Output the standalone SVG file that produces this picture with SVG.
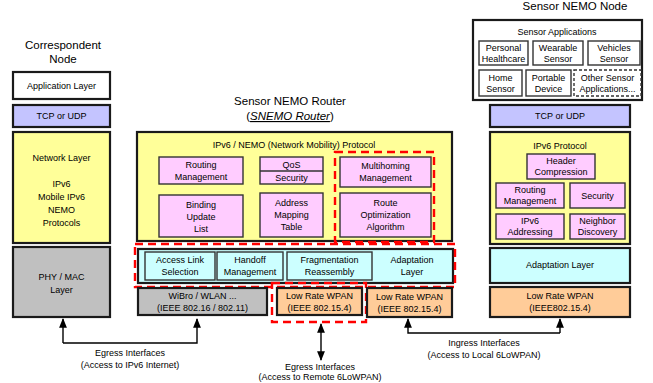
<svg xmlns="http://www.w3.org/2000/svg" width="653" height="383" viewBox="0 0 653 383">
<defs>
  <marker id="ah" viewBox="0 0 10 10" refX="9" refY="5" markerWidth="7" markerHeight="7" orient="auto-start-reverse">
    <path d="M0,1 L10,5 L0,9 z" fill="#000"/>
  </marker>
</defs>
<style>
  text { font-family: "Liberation Sans", Arial, sans-serif; font-size: 9px; fill: #000; text-anchor: middle; }
  .title { font-size: 11.5px; }
  .outer { stroke: #1a1a1a; stroke-width: 2.2; }
  .inner { stroke: #333; stroke-width: 1.4; }
  .white { fill: #ffffff; }
  .tcp { fill: #c4c4ff; }
  .yel { fill: #ffff99; }
  .pink { fill: #ffccff; }
  .cyan { fill: #ccffff; }
  .gray { fill: #c0c0c0; }
  .orng { fill: #ffcc99; }
  .red { fill: none; stroke: #ff0000; stroke-width: 2.4; stroke-dasharray: 8 5; }
  .dash { stroke-dasharray: 3 2; }
  .wire { fill: none; stroke: #000; stroke-width: 1.4; }
</style>
<rect width="653" height="383" fill="#fff"/>

<!-- Correspondent node stack -->
<g id="correspondent">
  <text class="title" x="63" y="49">Correspondent</text>
  <text class="title" x="63" y="63">Node</text>
  <rect class="outer white" x="13" y="72" width="97" height="27"/>
  <text x="61.5" y="89">Application Layer</text>
  <rect class="outer tcp" x="13" y="105" width="97" height="22"/>
  <text x="61.5" y="119">TCP or UDP</text>
  <rect class="outer yel" x="13" y="132" width="97" height="111"/>
  <text x="61.5" y="161">Network Layer</text>
  <text x="61.5" y="187">IPv6</text>
  <text x="61.5" y="200">Mobile IPv6</text>
  <text x="61.5" y="213">NEMO</text>
  <text x="61.5" y="226">Protocols</text>
  <rect class="outer gray" x="13" y="247" width="97" height="70"/>
  <text x="61.5" y="280">PHY / MAC</text>
  <text x="61.5" y="293">Layer</text>
</g>

<!-- Sensor NEMO router -->
<g id="router">
  <text class="title" x="290" y="105">Sensor NEMO Router</text>
  <text class="title" x="290" y="120">(<tspan font-style="italic" text-decoration="underline">SNEMO Router</tspan>)</text>
  <rect class="outer yel" x="137" y="132" width="315" height="109"/>
  <text x="294" y="148">IPv6 / NEMO (Network Mobility) Protocol</text>

  <g id="routing-mgmt">
    <rect class="inner pink" x="159" y="157" width="84" height="27"/>
    <text x="201" y="168">Routing</text>
    <text x="201" y="180">Management</text>
  </g>
  <g id="qos-security">
    <rect class="inner pink" x="260" y="157" width="63" height="27"/>
    <line class="inner" x1="260" y1="171" x2="323" y2="171"/>
    <text x="291.5" y="168">QoS</text>
    <text x="291.5" y="181">Security</text>
  </g>
  <g id="binding-update">
    <rect class="inner pink" x="159" y="195" width="84" height="42"/>
    <text x="201" y="208">Binding</text>
    <text x="201" y="220">Update</text>
    <text x="201" y="232">List</text>
  </g>
  <g id="address-mapping">
    <rect class="inner pink" x="260" y="193" width="63" height="44"/>
    <text x="291.5" y="206">Address</text>
    <text x="291.5" y="218">Mapping</text>
    <text x="291.5" y="230">Table</text>
  </g>
  <g id="multihoming">
    <rect class="inner pink" x="340" y="157" width="91" height="30"/>
    <text x="385.5" y="169">Multihoming</text>
    <text x="385.5" y="181">Management</text>
  </g>
  <g id="route-opt">
    <rect class="inner pink" x="340" y="193" width="91" height="44"/>
    <text x="385.5" y="206">Route</text>
    <text x="385.5" y="218">Optimization</text>
    <text x="385.5" y="230">Algorithm</text>
  </g>
  <rect class="red" x="335" y="152" width="99" height="90"/>

  <g id="mobility-row">
    <rect class="outer cyan" x="138" y="249" width="315" height="34"/>
    <rect class="inner cyan" x="145" y="252" width="70" height="28"/>
    <text x="180" y="263">Access Link</text>
    <text x="180" y="275">Selection</text>
    <rect class="inner cyan" x="217" y="252" width="66" height="28"/>
    <text x="250" y="263">Handoff</text>
    <text x="250" y="275">Management</text>
    <rect class="inner cyan" x="287" y="252" width="85" height="28"/>
    <text x="329.5" y="263">Fragmentation</text>
    <text x="329.5" y="275">Reassembly</text>
    <text x="412" y="263">Adaptation</text>
    <text x="412" y="275">Layer</text>
  </g>
  <rect class="red" x="135" y="244" width="320" height="43"/>

  <g id="wibro">
    <rect class="outer gray" x="138" y="288" width="129" height="27"/>
    <text x="202.5" y="299">WiBro / WLAN ...</text>
    <text x="202.5" y="311">(IEEE 802.16 / 802.11)</text>
  </g>
  <g id="wpan-remote">
    <rect class="outer orng" x="277" y="288" width="85" height="27"/>
    <text x="319.5" y="299">Low Rate WPAN</text>
    <text x="319.5" y="311">(IEEE 802.15.4)</text>
  </g>
  <rect class="red" x="272" y="283" width="94" height="39"/>
  <g id="wpan-local">
    <rect class="outer orng" x="367" y="288" width="85" height="29"/>
    <text x="409.5" y="300">Low Rate WPAN</text>
    <text x="409.5" y="312">(IEEE 802.15.4)</text>
  </g>
</g>

<!-- Sensor NEMO node -->
<g id="sensor-node">
  <text class="title" x="575" y="10">Sensor NEMO Node</text>
  <g id="sensor-apps">
    <rect class="outer white" x="473" y="20" width="169" height="80"/>
    <text x="557" y="35">Sensor Applications</text>
    <rect class="inner white" x="479" y="41" width="49" height="24"/>
    <text x="503.5" y="51">Personal</text>
    <text x="503.5" y="62">Healthcare</text>
    <rect class="inner white" x="533" y="41" width="50" height="24"/>
    <text x="558" y="51">Wearable</text>
    <text x="558" y="62">Sensor</text>
    <rect class="inner white" x="588" y="41" width="52" height="24"/>
    <text x="614" y="51">Vehicles</text>
    <text x="614" y="62">Sensor</text>
    <rect class="inner white" x="479" y="70" width="43" height="26"/>
    <text x="500.5" y="81">Home</text>
    <text x="500.5" y="92">Sensor</text>
    <rect class="inner white" x="526" y="70" width="45" height="26"/>
    <text x="548.5" y="81">Portable</text>
    <text x="548.5" y="92">Device</text>
    <rect class="inner white dash" x="574" y="70" width="67" height="26"/>
    <text x="607.5" y="81">Other Sensor</text>
    <text x="607.5" y="92">Applications...</text>
  </g>
  <rect class="outer tcp" x="490" y="105" width="140" height="22"/>
  <text x="560" y="119">TCP or UDP</text>
  <g id="ipv6-protocol">
    <rect class="outer yel" x="490" y="132" width="140" height="112"/>
    <text x="560" y="149">IPv6  Protocol</text>
    <rect class="inner pink" x="527" y="154" width="68" height="25"/>
    <text x="561" y="164">Header</text>
    <text x="561" y="175">Compression</text>
    <rect class="inner pink" x="496" y="183" width="68" height="25"/>
    <text x="530" y="193">Routing</text>
    <text x="530" y="204">Management</text>
    <rect class="inner pink" x="570" y="183" width="55" height="25"/>
    <text x="597.5" y="199">Security</text>
    <rect class="inner pink" x="496" y="214" width="68" height="25"/>
    <text x="530" y="224">IPv6</text>
    <text x="530" y="235">Addressing</text>
    <rect class="inner pink" x="570" y="214" width="55" height="25"/>
    <text x="597.5" y="224">Neighbor</text>
    <text x="597.5" y="235">Discovery</text>
  </g>
  <rect class="outer cyan" x="490" y="248" width="140" height="35"/>
  <text x="560" y="268">Adaptation Layer</text>
  <rect class="outer orng" x="490" y="287" width="140" height="30"/>
  <text x="560" y="299">Low Rate WPAN</text>
  <text x="560" y="311">(IEEE802.15.4)</text>
</g>

<!-- interface connectors -->
<g id="connectors">
  <path class="wire" d="M63,343 V319" marker-end="url(#ah)"/>
  <path class="wire" d="M63,343 H197 V319" marker-end="url(#ah)"/>
  <path class="wire" d="M321,324 V360" marker-start="url(#ah)" marker-end="url(#ah)"/>
  <path class="wire" d="M560,333 H408 V319" marker-end="url(#ah)"/>
  <path class="wire" d="M560,333 V319" marker-end="url(#ah)"/>
</g>

<g id="labels">
  <text x="130" y="356">Egress Interfaces</text>
  <text x="130" y="368">(Access to IPv6 Internet)</text>
  <text x="320" y="370">Egress Interfaces</text>
  <text x="320" y="380" font-size="8.5">(Access to Remote 6LoWPAN)</text>
  <text x="484" y="346">Ingress Interfaces</text>
  <text x="484" y="358">(Access to Local 6LoWPAN)</text>
</g>
</svg>
